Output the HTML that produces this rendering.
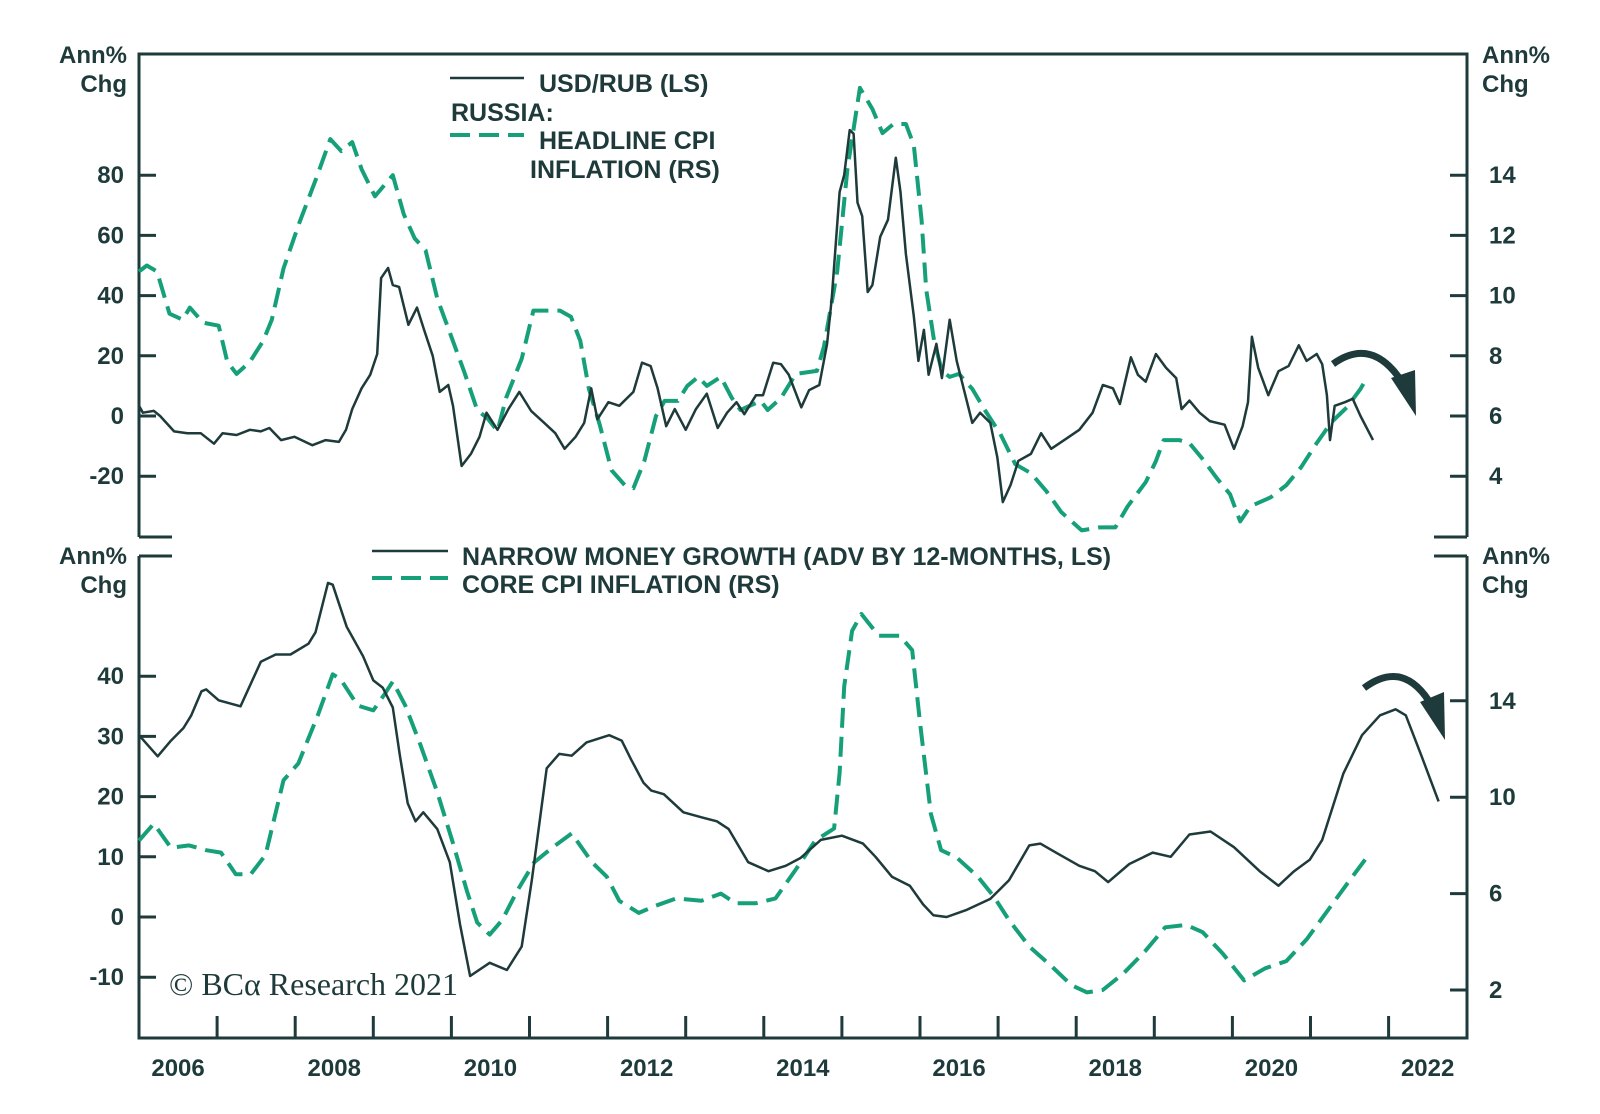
<!DOCTYPE html>
<html><head><meta charset="utf-8">
<style>
html,body{margin:0;padding:0;background:#fff;}
svg{display:block;}
text{font-family:"Liberation Sans",Arial,sans-serif;fill:#1e3a3a;}
.b{font-weight:bold;font-size:25px;}
.t{font-weight:bold;font-size:24px;}
</style></head>
<body>
<svg id="chart" width="1600" height="1114" viewBox="0 0 1600 1114" xmlns="http://www.w3.org/2000/svg">
  <g id="frame" stroke="#1e3a3a" stroke-width="3" fill="none">
    <path d="M139,537 L139,54 L1467,54 L1467,537"/>
    <path d="M139,537 L172,537"/>
    <path d="M1434,537 L1467,537"/>
    <path d="M139,556 L139,1038 L1467,1038 L1467,556"/>
    <path d="M139,556 L172,556"/>
    <path d="M1434,556 L1467,556"/>
  </g>
  <g id="ticks"></g>
  <g id="series"></g>

  <text class="t" x="127" y="63" text-anchor="end">Ann%</text>
  <text class="t" x="127" y="92" text-anchor="end">Chg</text>
  <text class="t" x="1482" y="63">Ann%</text>
  <text class="t" x="1482" y="92">Chg</text>
  <text class="t" x="127" y="564" text-anchor="end">Ann%</text>
  <text class="t" x="127" y="593" text-anchor="end">Chg</text>
  <text class="t" x="1482" y="564">Ann%</text>
  <text class="t" x="1482" y="593">Chg</text>

  <g>
    <line x1="450" y1="78" x2="524" y2="78" stroke="#1e3a3a" stroke-width="2.5"/>
    <text class="b" x="539" y="92">USD/RUB (LS)</text>
    <text class="b" x="451" y="121">RUSSIA:</text>
    <line x1="450" y1="135" x2="524" y2="135" stroke="#16a079" stroke-width="4" stroke-dasharray="20,9"/>
    <text class="b" x="539" y="149">HEADLINE CPI</text>
    <text class="b" x="530" y="178">INFLATION (RS)</text>
  </g>
  <g>
    <line x1="372" y1="551" x2="448" y2="551" stroke="#1e3a3a" stroke-width="2.5"/>
    <text class="b" x="462" y="565">NARROW MONEY GROWTH (ADV BY 12-MONTHS, LS)</text>
    <line x1="372" y1="578" x2="448" y2="578" stroke="#16a079" stroke-width="4" stroke-dasharray="20,9"/>
    <text class="b" x="462" y="593">CORE CPI INFLATION (RS)</text>
  </g>

  <text x="169" y="995" style="font-family:'Liberation Serif',serif;font-size:32px;fill:#1e3a3a;">© BCα Research 2021</text>

  <g>
    <path d="M1333,364 Q1372,336 1402,382" stroke="#1e3a3a" stroke-width="7" fill="none"/>
    <polygon points="1391,378 1415,370 1416,416" fill="#1e3a3a"/>
  </g>
  <g>
    <path d="M1364,688 Q1404,658 1432,706" stroke="#1e3a3a" stroke-width="7" fill="none"/>
    <polygon points="1420,702 1444,692 1445,740" fill="#1e3a3a"/>
  </g>
</svg>
<script>
const yearLabels = ["2006","2008","2010","2012","2014","2016","2018","2020","2022"];
const topLeftTicks = [80,60,40,20,0,-20];
const topRightTicks = [14,12,10,8,6,4];
const bottomLeftTicks = [40,30,20,10,0,-10];
const bottomRightTicks = [14,10,6,2];

const rubDates = [2006.0,2006.05,2006.19,2006.27,2006.45,2006.62,2006.79,2006.96,2007.07,2007.25,2007.42,2007.56,2007.67,2007.82,2007.99,2008.22,2008.39,2008.56,2008.65,2008.73,2008.85,2008.96,2009.05,2009.1,2009.19,2009.25,2009.33,2009.45,2009.56,2009.65,2009.76,2009.85,2009.96,2010.02,2010.13,2010.25,2010.36,2010.45,2010.59,2010.73,2010.87,2011.02,2011.19,2011.33,2011.45,2011.59,2011.7,2011.79,2011.87,2012.01,2012.15,2012.33,2012.44,2012.55,2012.64,2012.75,2012.86,2013.0,2013.13,2013.27,2013.41,2013.53,2013.65,2013.75,2013.9,2013.99,2014.12,2014.22,2014.32,2014.48,2014.58,2014.71,2014.81,2014.87,2014.97,2015.03,2015.1,2015.15,2015.2,2015.26,2015.33,2015.39,2015.49,2015.59,2015.69,2015.75,2015.82,2015.92,2015.98,2016.05,2016.11,2016.21,2016.28,2016.38,2016.47,2016.57,2016.67,2016.77,2016.9,2016.99,2017.06,2017.16,2017.26,2017.42,2017.55,2017.68,2017.88,2018.04,2018.21,2018.34,2018.47,2018.56,2018.7,2018.79,2018.89,2019.02,2019.15,2019.28,2019.35,2019.45,2019.58,2019.71,2019.9,2020.02,2020.13,2020.2,2020.25,2020.33,2020.46,2020.59,2020.72,2020.85,2020.95,2021.08,2021.15,2021.21,2021.25,2021.31,2021.44,2021.54,2021.64,2021.8];
const rubValues = [3.4,1.1,1.7,0,-5.1,-5.7,-5.7,-9.2,-5.7,-6.3,-4.6,-5.1,-4.0,-8.0,-6.9,-9.7,-8.0,-8.6,-4.6,2.3,9.2,13.7,20.6,45.8,49.2,43.5,42.9,30.3,36,28.6,20,8,10.3,3.4,-16.6,-12.6,-6.9,1.1,-4.6,2.3,8,1.7,-2.3,-5.7,-10.9,-6.9,-2.3,9.2,-1.1,4.6,3.4,8,17.7,16.6,9.2,-3.4,2.3,-4.6,2.3,7.4,-4.0,1.1,4.6,0.6,6.9,6.9,17.7,17.2,13.7,2.9,8.6,10.3,24,38.9,74.4,80.1,95,93.8,70.9,66.4,41.2,43.5,59.5,65.2,85.8,74.4,53.8,33.2,18.3,28.6,13.7,24,12.6,32,18.3,8,-2.3,1.1,-2.3,-13.7,-28.6,-22.9,-14.9,-12.6,-5.7,-10.9,-7.4,-4.6,1.1,10.3,9.2,4.0,19.5,13.7,11.4,20.6,16,12.6,2.3,5.1,1.1,-1.7,-2.9,-10.9,-3.4,4.6,26.3,16,6.9,14.9,16.6,23.5,18.3,20.6,17.2,6.9,-8,3.4,4.6,5.7,0,-8];

const headDates = [2006.0,2006.1,2006.23,2006.39,2006.56,2006.65,2006.82,2007.02,2007.13,2007.25,2007.42,2007.59,2007.7,2007.85,2008.05,2008.27,2008.45,2008.59,2008.73,2008.85,2009.02,2009.25,2009.39,2009.53,2009.67,2009.82,2009.99,2010.16,2010.33,2010.47,2010.59,2010.7,2010.9,2011.05,2011.19,2011.39,2011.53,2011.65,2011.76,2011.9,2012.05,2012.22,2012.33,2012.47,2012.62,2012.73,2012.9,2013.02,2013.16,2013.27,2013.45,2013.59,2013.7,2013.96,2014.05,2014.22,2014.41,2014.68,2014.77,2014.94,2015.07,2015.23,2015.39,2015.52,2015.66,2015.82,2015.92,2016.02,2016.08,2016.18,2016.28,2016.38,2016.5,2016.67,2016.83,2017.03,2017.22,2017.42,2017.62,2017.81,2018.07,2018.3,2018.5,2018.66,2018.89,2019.02,2019.12,2019.32,2019.45,2019.61,2019.81,2019.97,2020.1,2020.23,2020.49,2020.69,2020.88,2021.08,2021.27,2021.47,2021.64,2021.73];
const headValues = [10.8,11.0,10.8,9.4,9.2,9.6,9.1,9.0,7.8,7.4,7.8,8.5,9.2,10.9,12.4,13.9,15.2,14.8,15.1,14.2,13.3,14.0,12.7,11.9,11.5,9.9,8.7,7.5,6.2,5.9,5.5,6.6,7.9,9.5,9.5,9.5,9.3,8.5,6.9,5.7,4.2,3.7,3.6,4.5,6.0,6.5,6.5,7.0,7.3,7.0,7.3,6.6,6.2,6.5,6.2,6.6,7.4,7.5,8.3,10.8,14.2,16.9,16.2,15.4,15.7,15.7,15.0,12.5,10.2,8.5,7.5,7.3,7.4,6.9,6.2,5.4,4.4,4.1,3.5,2.8,2.2,2.3,2.3,3.0,3.8,4.5,5.2,5.2,5.1,4.6,3.9,3.4,2.5,3.0,3.3,3.7,4.3,5.1,5.8,6.3,6.9,7.3];

const moneyDates = [2006.0,2006.24,2006.41,2006.57,2006.67,2006.8,2006.86,2007.02,2007.3,2007.56,2007.75,2007.94,2008.17,2008.26,2008.42,2008.48,2008.66,2008.87,2009.0,2009.12,2009.25,2009.34,2009.44,2009.54,2009.64,2009.82,2009.98,2010.11,2010.24,2010.49,2010.71,2010.9,2011.03,2011.22,2011.38,2011.54,2011.73,2012.02,2012.18,2012.3,2012.46,2012.56,2012.72,2012.97,2013.22,2013.4,2013.55,2013.8,2014.06,2014.28,2014.47,2014.73,2015.0,2015.27,2015.43,2015.64,2015.87,2016.04,2016.17,2016.34,2016.6,2016.9,2017.14,2017.4,2017.54,2017.74,2018.04,2018.24,2018.41,2018.68,2018.98,2019.21,2019.45,2019.72,2020.02,2020.35,2020.59,2020.79,2020.99,2021.15,2021.42,2021.66,2021.89,2022.09,2022.22,2022.42,2022.64];
const moneyValues = [30.2,26.7,29.3,31.4,33.5,37.5,37.8,36,35,42.4,43.6,43.6,45.4,47.3,55.5,55.2,48.2,43.3,39.3,38.1,34.8,26.8,18.9,15.9,17.4,14.6,9.1,-1.2,-9.8,-7.6,-8.8,-4.9,6.1,24.7,27.1,26.8,29,30.2,29.3,26.2,22.3,21,20.4,17.4,16.5,15.9,14.6,9.1,7.6,8.5,9.8,12.8,13.5,12.2,10,6.7,5.2,2.1,0.3,0,1.2,3,6.1,11.9,12.2,10.7,8.5,7.6,5.8,8.8,10.7,10,13.7,14.2,11.6,7.6,5.2,7.6,9.5,12.8,23.8,30.2,33.5,34.5,33.5,26.8,19.2];

const coreDates = [2006.0,2006.19,2006.41,2006.64,2006.86,2007.05,2007.24,2007.43,2007.62,2007.85,2008.04,2008.29,2008.48,2008.58,2008.8,2009.0,2009.15,2009.25,2009.41,2009.6,2009.82,2010.01,2010.2,2010.33,2010.49,2010.65,2010.84,2011.06,2011.29,2011.54,2011.8,2011.99,2012.15,2012.4,2012.62,2012.88,2013.2,2013.45,2013.64,2013.9,2014.15,2014.41,2014.66,2014.9,2014.97,2015.03,2015.13,2015.25,2015.47,2015.74,2015.9,2016.0,2016.14,2016.27,2016.47,2016.74,2016.94,2017.14,2017.4,2017.68,2017.94,2018.14,2018.34,2018.61,2018.88,2019.14,2019.41,2019.62,2019.88,2020.15,2020.42,2020.69,2020.95,2021.22,2021.49,2021.72];
const coreValues = [8.2,8.9,7.9,8.0,7.8,7.7,6.8,6.8,7.6,10.7,11.4,13.4,15.1,14.9,13.8,13.6,14.3,14.8,13.8,12.2,10.2,8.2,6.1,4.8,4.3,4.9,6.1,7.3,7.9,8.5,7.3,6.7,5.7,5.2,5.5,5.8,5.7,6.0,5.6,5.6,5.8,7.0,8.2,8.7,11.0,14.6,16.9,17.6,16.7,16.7,16.1,13.1,9.3,7.8,7.5,6.7,5.9,4.9,3.8,3.0,2.2,1.9,2.0,2.7,3.6,4.6,4.7,4.4,3.5,2.4,2.9,3.2,4.1,5.3,6.5,7.5];

const NS = "http://www.w3.org/2000/svg";
function xS(t){ return 139 + (t - 2006) * 78.1; }
function yTL(v){ return 416 - v * 3.01; }
function yTR(r){ return 416 - (r - 6) * 30.1; }
function yBL(v){ return 917 - v * 6.02; }
function yBR(r){ return 990 - (r - 2) * 24.1; }

const ticks = document.getElementById('ticks');
const series = document.getElementById('series');

function mk(tag, attrs, parent){
  const el = document.createElementNS(NS, tag);
  for (const k in attrs) el.setAttribute(k, attrs[k]);
  parent.appendChild(el);
  return el;
}

topLeftTicks.forEach(v => {
  const y = yTL(v);
  const l = mk('line', {x1:139, x2:156, y1:y, y2:y, stroke:'#1e3a3a', 'stroke-width':3}, ticks);
  
  
  const t = mk('text', {x:124, y:y+8, 'text-anchor':'end', class:'t'}, ticks);
  t.textContent = v;
  
  
});
topRightTicks.forEach(v => {
  const y = yTR(v);
  const l = mk('line', {x1:1450, x2:1467, y1:y, y2:y, stroke:'#1e3a3a', 'stroke-width':3}, ticks);
  
  
  const t = mk('text', {x:1489, y:y+8, class:'t'}, ticks);
  t.textContent = v;
  
  
});
bottomLeftTicks.forEach(v => {
  const y = yBL(v);
  const l = mk('line', {x1:139, x2:156, y1:y, y2:y, stroke:'#1e3a3a', 'stroke-width':3}, ticks);
  
  
  const t = mk('text', {x:124, y:y+8, 'text-anchor':'end', class:'t'}, ticks);
  t.textContent = v;
  
  
});
bottomRightTicks.forEach(v => {
  const y = yBR(v);
  const l = mk('line', {x1:1450, x2:1467, y1:y, y2:y, stroke:'#1e3a3a', 'stroke-width':3}, ticks);
  
  
  const t = mk('text', {x:1489, y:y+8, class:'t'}, ticks);
  t.textContent = v;
  
  
});
for (let yr = 2007; yr <= 2022; yr++) {
  const x = xS(yr);
  const l = mk('line', {x1:x, x2:x, y1:1038, y2:1016, stroke:'#1e3a3a', 'stroke-width':3}, ticks);
  
  
}
yearLabels.forEach(s => {
  const t = mk('text', {x:xS(+s + 0.5), y:1076, 'text-anchor':'middle', class:'t'}, ticks);
  t.textContent = s;
  
  
});

function line(dates, vals, yf, dashed){
  const d = dates.map((t,i) => (i ? 'L' : 'M') + xS(t).toFixed(1) + ',' + yf(vals[i]).toFixed(1)).join(' ');
  const attrs = dashed
    ? {d:d, fill:'none', stroke:'#16a079', 'stroke-width':4, 'stroke-dasharray':'20,9', 'stroke-linejoin':'round'}
    : {d:d, fill:'none', stroke:'#1e3a3a', 'stroke-width':2.5, 'stroke-linejoin':'round'};
  return mk('path', attrs, series);
}
const p1 = line(headDates, headValues, yTR, true);


const p2 = line(rubDates, rubValues, yTL, false);


const p3 = line(coreDates, coreValues, yBR, true);


const p4 = line(moneyDates, moneyValues, yBL, false);


</script>
</body></html>
